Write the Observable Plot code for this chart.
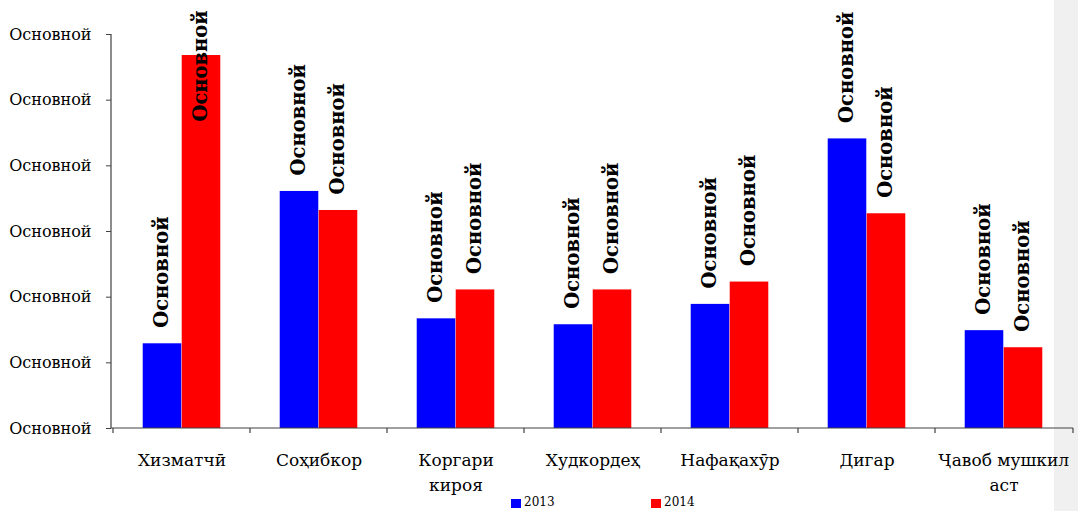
<!DOCTYPE html>
<html>
<head>
<meta charset="utf-8">
<script src="https://cdn.jsdelivr.net/npm/d3@7"></script>
<script src="https://cdn.jsdelivr.net/npm/@observablehq/plot@0.6"></script>
<style>
  html, body { margin: 0; padding: 0; background: #ffffff; }
  body { width: 1078px; height: 511px; overflow: hidden; position: relative; font-family: "DejaVu Serif", serif; }
  #strip { position: absolute; right: 0; top: 0; width: 24px; height: 511px; background: #f0f0f0; z-index: 0; }
  #chart { position: absolute; left: 0; top: 0; z-index: 1; }
  #legend { position: absolute; left: 0; top: 0; width: 1078px; height: 511px; z-index: 2; pointer-events: none; }
  .sw { position: absolute; width: 10px; height: 9px; top: 499px; }
  .lt { position: absolute; top: 495px; font-size: 12px; line-height: 15px; color: #000; }
</style>
</head>
<body>
<div id="strip"></div>
<div id="chart"></div>
<div id="legend"></div>
<script>
const categories = ["Хизматчӣ", "Соҳибкор", "Коргари\nкироя", "Худкордеҳ", "Нафақахӯр", "Дигар", "Ҷавоб мушкил\nаст"];
const series = ["2013", "2014"];
const values2013 = [1.29, 3.61, 1.67, 1.58, 1.89, 4.41, 1.49];
const values2014 = [5.68, 3.32, 2.11, 2.11, 2.23, 3.27, 1.23];
const seriesColors = ["#0000ff", "#ff0000"];
const yTicks = [0, 1, 2, 3, 4, 5, 6];
const yTickLabels = ["Основной", "Основной", "Основной", "Основной", "Основной", "Основной", "Основной"];
const barLabel = "Основной";

const W = 1078, H = 511;
const mL = 111, mR = 5, mT = 34, axisY0 = 428;
const bandW = (W - mL - mR) / categories.length;
const barW = 39;
const outer = (bandW - 2 * barW) / 2;
const labelCap = 4.43;

const data2013 = categories.map((c, i) => ({cat: c, year: series[0], value: values2013[i]}));
const data2014 = categories.map((c, i) => ({cat: c, year: series[1], value: values2014[i]}));

function axisLines(index, scales, values, dims) {
  const g = d3.create("svg:g").attr("stroke", "#404040").attr("stroke-width", 1.2);
  const x0 = dims.marginLeft, x1 = dims.width - dims.marginRight;
  const y0 = scales.y(0), yTop = scales.y(yTicks[yTicks.length - 1]);
  g.append("line").attr("x1", x0).attr("x2", x0).attr("y1", yTop).attr("y2", y0);
  g.append("line").attr("x1", x0).attr("x2", x1).attr("y1", y0).attr("y2", y0);
  const bounds = categories.map(c => scales.x(c)).concat([x1]);
  for (const b of bounds) {
    g.append("line").attr("x1", b).attr("x2", b).attr("y1", y0).attr("y2", y0 + 5);
  }
  return g.node();
}

const chart = Plot.plot({
  width: W,
  height: H,
  marginLeft: mL,
  marginRight: mR,
  marginTop: mT,
  marginBottom: H - axisY0,
  style: {background: "transparent", fontFamily: "DejaVu Serif, serif", color: "#000"},
  x: {domain: categories, padding: 0, axis: null},
  y: {domain: [0, 6], axis: null},
  marks: [
    Plot.barY(data2013, {x: "cat", y: "value", fill: seriesColors[0], insetLeft: outer, insetRight: outer + barW}),
    Plot.barY(data2014, {x: "cat", y: "value", fill: seriesColors[1], insetLeft: outer + barW, insetRight: outer}),
    axisLines,
    Plot.axisY({ticks: yTicks, tickFormat: d => yTickLabels[yTicks.indexOf(d)], tickSize: 5, tickPadding: 15, fontSize: 16, stroke: "#404040", fill: "#000", label: null}),
    Plot.axisX({tickSize: 0, tickPadding: 20, fontSize: 17, lineHeight: 1.47, fill: "#000", label: null}),
    Plot.text(data2013, {x: "cat", y: d => Math.min(d.value, labelCap), text: () => barLabel, rotate: -90, textAnchor: "start", dx: -20, dy: -16, fontWeight: "bold", fontSize: 19.5, fill: "#000"}),
    Plot.text(data2014, {x: "cat", y: d => Math.min(d.value, labelCap), text: () => barLabel, rotate: -90, textAnchor: "start", dx: 19, dy: -16, fontWeight: "bold", fontSize: 19.5, fill: "#000"})
  ]
});
document.getElementById("chart").appendChild(chart);

const legend = document.getElementById("legend");
const legendX = [511, 651];
series.forEach((s, i) => {
  const sw = document.createElement("div");
  sw.className = "sw";
  sw.style.left = legendX[i] + "px";
  sw.style.background = seriesColors[i];
  legend.appendChild(sw);
  const t = document.createElement("div");
  t.className = "lt";
  t.style.left = (legendX[i] + 13) + "px";
  t.textContent = s;
  legend.appendChild(t);
});
</script>
</body>
</html>
